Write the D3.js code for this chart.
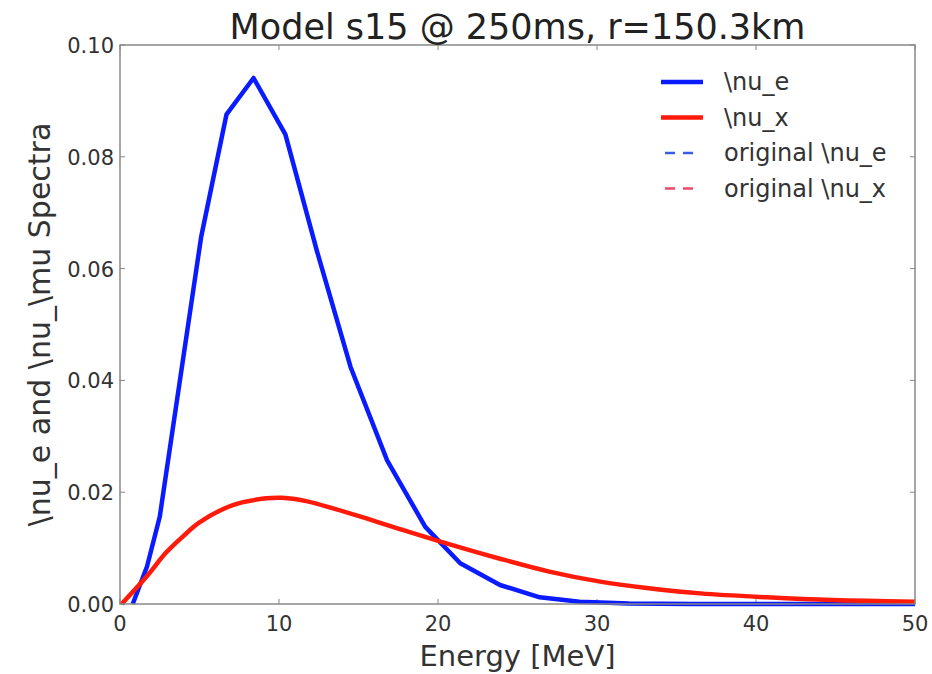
<!DOCTYPE html>
<html><head><meta charset="utf-8">
<script src="https://cdn.jsdelivr.net/npm/d3@7"></script>
<style>body{margin:0;background:#fff;} svg{display:block;}</style>
</head><body>
<svg id="chart" width="932" height="674"></svg>
<script>
// Data
const nuE_energy = [0.8, 1.7, 2.5, 5.1, 6.7, 8.4, 10.4, 12.4, 14.5, 16.8, 19.2, 21.4, 23.9, 26.4, 28.9, 32, 36, 40, 45, 50];
const nuE_value  = [0.0, 0.0067, 0.0156, 0.0656, 0.0876, 0.0941, 0.0840, 0.0630, 0.0424, 0.0257, 0.0138, 0.0073, 0.0034, 0.0012, 0.0004, 0.0001, 0.0, 0.0, 0.0, 0.0];
const nuX_energy = [0.1, 1.7, 2.9, 4.0, 5.0, 7.1, 9.2, 10.2, 11.7, 13.4, 15.5, 17.6, 20.0, 23.9, 27.0, 30.2, 33.0, 36.5, 40.7, 44.8, 50];
const nuX_value  = [0.0, 0.0050, 0.0092, 0.0122, 0.0146, 0.0177, 0.0189, 0.0190, 0.0184, 0.0171, 0.0153, 0.0134, 0.0113, 0.0081, 0.0058, 0.0040, 0.0029, 0.0019, 0.0012, 0.0007, 0.0004];
const xTicks = [0, 10, 20, 30, 40, 50];
const yTicks = [0.00, 0.02, 0.04, 0.06, 0.08, 0.10];
const legendLabels = ["\\nu_e", "\\nu_x", "original \\nu_e", "original \\nu_x"];
const legendColors = ["#0a1cff", "#ff1a0a", "#3a5ae8", "#f04a6a"];
const legendDash = [null, null, "10,8", "10,8"];
const titleText = "Model s15 @ 250ms, r=150.3km";
const xLabel = "Energy [MeV]";
const yLabel = "\\nu_e and \\nu_\\mu Spectra";

const svg = d3.select("#chart");
const L = 120, R = 915, T = 45, B = 604;
const x = d3.scaleLinear().domain([0, 50]).range([L, R]);
const y = d3.scaleLinear().domain([0, 0.10]).range([B, T]);
const font = "DejaVu Sans, Verdana, sans-serif";
const textCol = "#333";
const axisCol = "#888";

// ticks (inward, all sides)
const g = svg.append("g");
xTicks.forEach(t => {
  g.append("line").attr("x1", x(t)).attr("x2", x(t)).attr("y1", B).attr("y2", B - 5).attr("stroke", axisCol).attr("stroke-width", 1);
  g.append("line").attr("x1", x(t)).attr("x2", x(t)).attr("y1", T).attr("y2", T + 5).attr("stroke", axisCol).attr("stroke-width", 1);
  g.append("text").attr("x", x(t)).attr("y", B + 27).attr("text-anchor", "middle")
    .attr("font-family", font).attr("font-size", 21).attr("fill", textCol).text(d3.format("d")(t));
});
yTicks.forEach(t => {
  g.append("line").attr("x1", L).attr("x2", L + 5).attr("y1", y(t)).attr("y2", y(t)).attr("stroke", axisCol).attr("stroke-width", 1);
  g.append("line").attr("x1", R).attr("x2", R - 5).attr("y1", y(t)).attr("y2", y(t)).attr("stroke", axisCol).attr("stroke-width", 1);
  g.append("text").attr("x", L - 6).attr("y", y(t) + 8).attr("text-anchor", "end")
    .attr("font-family", font).attr("font-size", 21).attr("fill", textCol).text(d3.format(".2f")(t));
});

// curves
const lineE = d3.line().x((d, i) => x(nuE_energy[i])).y(d => y(d));
const lineX = d3.line().x((d, i) => x(nuX_energy[i])).y(d => y(d)).curve(d3.curveCatmullRom.alpha(0.5));
svg.append("path").attr("d", lineE(nuE_value)).attr("fill", "none").attr("stroke", legendColors[0]).attr("stroke-width", 4.5).attr("stroke-linejoin", "round");
svg.append("path").attr("d", lineX(nuX_value)).attr("fill", "none").attr("stroke", legendColors[1]).attr("stroke-width", 4.5).attr("stroke-linejoin", "round");

// frame
svg.append("rect").attr("x", L).attr("y", T).attr("width", R - L).attr("height", B - T)
  .attr("fill", "none").attr("stroke", axisCol).attr("stroke-width", 1.5);

// title & labels
svg.append("text").attr("x", (L + R) / 2).attr("y", 39).attr("text-anchor", "middle")
  .attr("font-family", font).attr("font-size", 35).attr("fill", "#222").text(titleText);
svg.append("text").attr("x", (L + R) / 2).attr("y", 666).attr("text-anchor", "middle")
  .attr("font-family", font).attr("font-size", 29).attr("fill", textCol).text(xLabel);
svg.append("text").attr("transform", `translate(50,${(T + B) / 2}) rotate(-90)`).attr("text-anchor", "middle")
  .attr("font-family", font).attr("font-size", 30).attr("fill", textCol).text(yLabel);

// legend
legendLabels.forEach((lab, i) => {
  const ly = 82 + i * 35.5;
  const ln = svg.append("line").attr("x1", i < 2 ? 661 : 665).attr("x2", i < 2 ? 703 : 693).attr("y1", ly).attr("y2", ly)
    .attr("stroke", legendColors[i]).attr("stroke-width", i < 2 ? 4.5 : 2.5);
  if (legendDash[i]) ln.attr("stroke-dasharray", legendDash[i]);
  svg.append("text").attr("x", 724).attr("y", ly + 8).attr("font-family", font).attr("font-size", 24)
    .attr("fill", textCol).text(lab);
});
</script>
</body></html>
